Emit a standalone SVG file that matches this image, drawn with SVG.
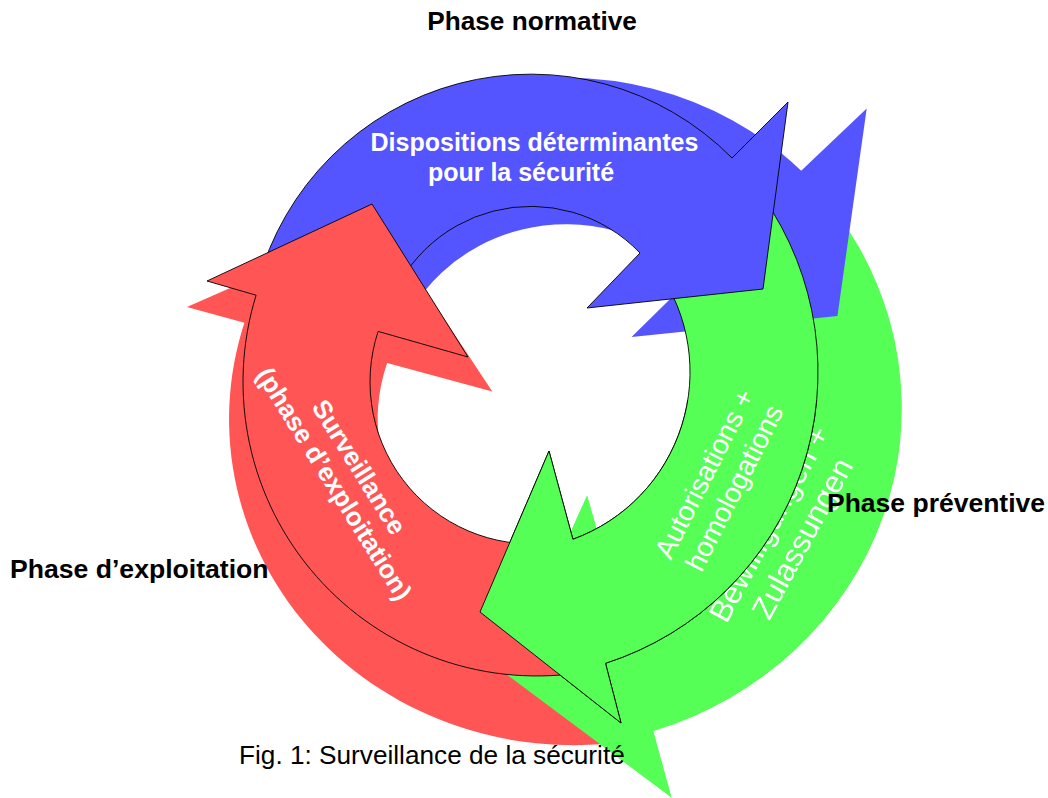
<svg xmlns="http://www.w3.org/2000/svg" xmlns:xlink="http://www.w3.org/1999/xlink" width="1048" height="798" viewBox="0 0 1048 798">
<style>
.blue{fill:#5555ff}
.red{fill:#ff5555}
.green{fill:#55ff55}
.front use{stroke:#000;stroke-width:0.9;stroke-linejoin:miter}
.back use{stroke:none}
.lbl{font-family:"Liberation Sans",Arial,sans-serif;font-weight:bold;fill:#000}
.cap{font-family:"Liberation Sans",Arial,sans-serif;font-size:26.2px;fill:#000}
.wb{font-family:"Liberation Sans",Arial,sans-serif;font-weight:bold;fill:#fff;text-anchor:middle}
.wr{font-family:"Liberation Sans",Arial,sans-serif;fill:#fff;text-anchor:middle}
</style>
<defs>
<path id="blueArrow" d="M257.6,283.8 A283,283 0 0 1 732,158 L788,102 L763,289 L587,308 L640,253 A151,151 0 0 0 385.1,317.9 Z"/>
<path id="redArrow" d="M588.1,671.5 A294,294 0 0 1 256.1,295.2 L207,281 L372,204 L468,357 L378.1,331.4 A162,162 0 0 0 560.1,541.5 Z"/>
<path id="greenArrow" d="M762.7,196.5 A306,306 0 0 1 605.5,663.3 L621,723 L480,612 L549,451 L572.9,539.3 A178,178 0 0 0 657.8,269.9 Z"/>
<clipPath id="lowClip" clipPathUnits="userSpaceOnUse"><rect x="0" y="400" width="1048" height="500"/></clipPath>
<filter id="soft" x="-5%" y="-5%" width="110%" height="110%"><feGaussianBlur stdDeviation="0.5"/></filter>
</defs>
<rect width="1048" height="798" fill="#fff"/>

<g id="back-layer" class="back" filter="url(#soft)">
  <g transform="matrix(1.17 0 0 1.109 -55.25 -4.51)">
    <use xlink:href="#greenArrow" href="#greenArrow" class="green"/>
    <use xlink:href="#blueArrow" href="#blueArrow" class="blue"/>
    <use xlink:href="#redArrow" href="#redArrow" class="red"/>
    <use xlink:href="#greenArrow" href="#greenArrow" class="green" clip-path="url(#lowClip)"/>
  </g>
  <g id="back-green-label" transform="translate(778.5,528.8) rotate(-61.5)">
    <text class="wr" font-size="31" x="0" y="0">Bewilligungen +</text>
    <text class="wr" font-size="31" x="3" y="36">Zulassungen</text>
  </g>
</g>

<g id="front-layer" class="front">
  <g id="node-green-tail"><use xlink:href="#greenArrow" href="#greenArrow" class="green"/></g>
  <g id="node-blue"><use xlink:href="#blueArrow" href="#blueArrow" class="blue"/></g>
  <g id="node-red"><use xlink:href="#redArrow" href="#redArrow" class="red"/></g>
  <g id="node-green"><use xlink:href="#greenArrow" href="#greenArrow" class="green" clip-path="url(#lowClip)"/></g>
</g>

<g id="blue-label">
  <text class="wb" font-size="25" x="534.5" y="151">Dispositions déterminantes</text>
  <text class="wb" font-size="25" x="521" y="181">pour la sécurité</text>
</g>
<g id="red-label" transform="translate(351.6,471.7) rotate(58)">
  <text class="wb" font-size="26" x="0" y="0">Surveillance</text>
  <text class="wb" font-size="26" x="1" y="30">(phase d’exploitation)</text>
</g>
<g id="green-label" transform="translate(713,478) rotate(-63)">
  <text class="wr" font-size="28" x="0" y="0">Autorisations +</text>
  <text class="wr" font-size="28" x="1" y="33">homologations</text>
</g>

<g id="phase-labels">
  <text class="lbl" font-size="26.2" x="532" y="29.5" text-anchor="middle">Phase normative</text>
  <text class="lbl" font-size="26.5" x="827" y="512">Phase préventive</text>
  <text class="lbl" font-size="26.6" x="10" y="578">Phase d’exploitation</text>
</g>
<text id="caption" class="cap" x="239" y="764">Fig. 1: Surveillance de la sécurité</text>
</svg>
